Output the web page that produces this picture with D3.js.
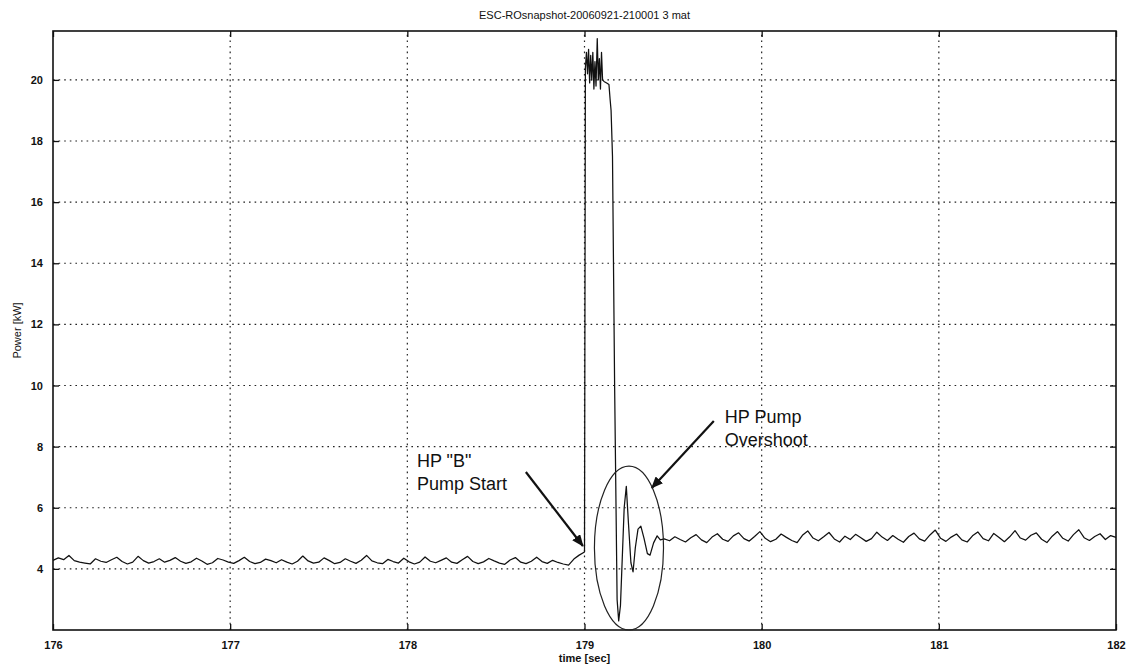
<!DOCTYPE html>
<html>
<head>
<meta charset="utf-8">
<script src="https://cdn.jsdelivr.net/npm/d3@7/dist/d3.min.js"></script>
<style>
  html, body { margin: 0; padding: 0; background: #fff; }
  svg { display: block; }
  text { font-family: "Liberation Sans", Arial, Helvetica, sans-serif; fill: #111; }
</style>
</head>
<body>
<svg id="chart" width="1130" height="666"></svg>
<script>
// ---- data -------------------------------------------------------------
const chartTitle = "ESC-ROsnapshot-20060921-210001 3 mat";
const xLabel = "time [sec]";
const yLabel = "Power [kW]";

const xTicks = [176, 177, 178, 179, 180, 181, 182];
const yTicks = [4, 6, 8, 10, 12, 14, 16, 18, 20];
const xDomain = [176, 182];
const yDomain = [2, 21.6];

// pre-start load, sampled every 0.03 s from 176.00 s
const preStart = 176.0;
const sampleStep = 0.03;
const preValues = [
  4.28, 4.36, 4.30, 4.44, 4.27, 4.22, 4.19, 4.16, 4.33, 4.25,
  4.21, 4.30, 4.38, 4.24, 4.16, 4.22, 4.41, 4.27, 4.19, 4.24,
  4.33, 4.22, 4.28, 4.37, 4.25, 4.18, 4.23, 4.35, 4.26, 4.15,
  4.20, 4.34, 4.29, 4.22, 4.18, 4.27, 4.38, 4.24, 4.17, 4.21,
  4.32, 4.27, 4.20, 4.30, 4.22, 4.16, 4.25, 4.42, 4.26, 4.19,
  4.22, 4.36, 4.27, 4.17, 4.21, 4.33, 4.25, 4.18, 4.28, 4.44,
  4.26, 4.20, 4.17, 4.31, 4.24, 4.19, 4.35, 4.23, 4.16, 4.22,
  4.39, 4.25, 4.20, 4.28, 4.36, 4.22, 4.18, 4.30, 4.41, 4.24,
  4.17, 4.23, 4.34, 4.26, 4.19, 4.15, 4.29, 4.37, 4.22, 4.17,
  4.25, 4.38, 4.24, 4.18, 4.28, 4.21, 4.16, 4.12, 4.32, 4.45
];

// pump start transient: [time s, power kW]
const transient = [
  [179.000, 4.55], [179.005, 20.4], [179.011, 20.9], [179.017, 20.2],
  [179.023, 21.0], [179.029, 19.9], [179.035, 20.8], [179.041, 20.0],
  [179.047, 20.9], [179.053, 19.7], [179.059, 20.6], [179.065, 19.8],
  [179.072, 21.35], [179.078, 20.0], [179.084, 20.7], [179.090, 19.7],
  [179.096, 20.9], [179.102, 20.0], [179.110, 19.95], [179.125, 19.9],
  [179.138, 19.85], [179.144, 19.4], [179.150, 19.0], [179.158, 17.5],
  [179.170, 10.0], [179.184, 3.0], [179.193, 2.3], [179.203, 2.8],
  [179.224, 6.0], [179.236, 6.7], [179.248, 5.5], [179.262, 4.2],
  [179.274, 3.9], [179.287, 4.7], [179.302, 5.3], [179.318, 5.4],
  [179.336, 5.0], [179.355, 4.5], [179.370, 4.45], [179.390, 4.85],
  [179.410, 5.08], [179.428, 4.95]
];

// post-start load, sampled every 0.03 s from 179.45 s
const postStart = 179.45;
const postValues = [
  4.98, 4.92, 5.05, 4.96, 4.88, 5.02, 5.12, 4.95, 4.86, 5.04,
  5.15, 4.97, 4.90, 5.08, 5.18, 4.99, 4.91, 5.06, 5.22, 5.00,
  4.89, 4.97, 5.14, 5.03, 4.93, 4.86, 5.10, 5.24, 5.01, 4.92,
  5.05, 5.19, 4.98, 4.88, 5.07, 4.96, 5.13, 5.02, 4.90, 4.99,
  5.20, 5.04, 4.93, 5.09, 4.97, 4.87, 5.06, 5.17, 4.98, 4.91,
  5.11, 5.27, 5.00, 4.90, 5.04, 5.14, 4.95, 4.88, 5.08, 5.21,
  4.99, 4.92, 5.16, 5.03, 4.89, 5.05, 5.25, 5.01, 4.94, 5.10,
  5.18, 4.97, 4.86, 5.07, 5.22, 5.00, 4.91, 5.12, 5.28, 5.02,
  4.93, 5.06, 5.15, 4.96, 5.09, 5.03
];

// callouts (data units)
const startNote = { t: 178.054, v: 7.33, lines: ['HP "B"', 'Pump Start'] };
const startArrow = { from: [178.669, 7.17], to: [178.991, 4.75] };
const overshootNote = { t: 179.792, v: 8.77, lines: ['HP Pump', 'Overshoot'] };
const overshootArrow = { from: [179.730, 8.84], to: [179.380, 6.65] };
const overshootRing = { t: 179.251, v: 4.68, dt: 0.195, dv: 2.68 };

// ---- layout -----------------------------------------------------------
const W = 1130, H = 666;
const margin = { left: 53, right: 14, top: 31, bottom: 36 };
const x = d3.scaleLinear().domain(xDomain).range([margin.left, W - margin.right]);
const y = d3.scaleLinear().domain(yDomain).range([H - margin.bottom, margin.top]);

const svg = d3.select("#chart");
svg.append("rect").attr("width", W).attr("height", H).attr("fill", "#fff");

const series = [
  ...preValues.map((v, i) => [preStart + i * sampleStep, v]),
  ...transient,
  ...postValues.map((v, i) => [postStart + i * sampleStep, v])
];

// grid
const grid = svg.append("g").attr("stroke", "#222").attr("stroke-width", 1.2)
  .attr("stroke-dasharray", "1.6,4");
grid.selectAll("line.gx").data(xTicks.slice(1, -1)).join("line")
  .attr("x1", d => x(d)).attr("x2", d => x(d))
  .attr("y1", y.range()[0]).attr("y2", y.range()[1]);
grid.selectAll("line.gy").data(yTicks).join("line")
  .attr("y1", d => y(d)).attr("y2", d => y(d))
  .attr("x1", x.range()[0]).attr("x2", x.range()[1]);

// trace
svg.append("path").datum(series)
  .attr("fill", "none").attr("stroke", "#111").attr("stroke-width", 1.25)
  .attr("stroke-linejoin", "round")
  .attr("d", d3.line().x(d => x(d[0])).y(d => y(d[1])));

// axes with inward ticks on every side
const tickLen = 6;
const axisStyle = g => {
  g.select(".domain").remove();
  g.selectAll(".tick line").attr("stroke", "#111").attr("stroke-width", 1.3);
  g.selectAll(".tick text").attr("font-size", 11).attr("font-weight", "bold")
    .style("font-family", '"Liberation Sans", Arial, sans-serif');
};
svg.append("g").attr("transform", `translate(0,${y.range()[0]})`)
  .call(d3.axisBottom(x).tickValues(xTicks).tickFormat(d3.format("d")).tickSizeInner(-tickLen).tickSizeOuter(0).tickPadding(tickLen + 5))
  .call(axisStyle);
svg.append("g").attr("transform", `translate(0,${y.range()[1]})`)
  .call(d3.axisTop(x).tickValues(xTicks).tickFormat("").tickSizeInner(-tickLen).tickSizeOuter(0))
  .call(axisStyle);
svg.append("g").attr("transform", `translate(${x.range()[0]},0)`)
  .call(d3.axisLeft(y).tickValues(yTicks).tickFormat(d3.format("d")).tickSizeInner(-tickLen).tickSizeOuter(0).tickPadding(tickLen + 4))
  .call(axisStyle);
svg.append("g").attr("transform", `translate(${x.range()[1]},0)`)
  .call(d3.axisRight(y).tickValues(yTicks).tickFormat("").tickSizeInner(-tickLen).tickSizeOuter(0))
  .call(axisStyle);

// frame
svg.append("rect")
  .attr("x", x.range()[0]).attr("y", y.range()[1])
  .attr("width", x.range()[1] - x.range()[0]).attr("height", y.range()[0] - y.range()[1])
  .attr("fill", "none").attr("stroke", "#111").attr("stroke-width", 1.6);

// titles
svg.append("text").attr("x", (x.range()[0] + x.range()[1]) / 2).attr("y", 19)
  .attr("text-anchor", "middle").attr("font-size", 11).text(chartTitle);
svg.append("text").attr("x", (x.range()[0] + x.range()[1]) / 2).attr("y", 662)
  .attr("text-anchor", "middle").attr("font-size", 11).attr("font-weight", "bold").text(xLabel);
svg.append("text").attr("transform", `translate(21,${(y.range()[0] + y.range()[1]) / 2}) rotate(-90)`)
  .attr("text-anchor", "middle").attr("font-size", 11).text(yLabel);

// callouts
const defs = svg.append("defs");
defs.append("marker").attr("id", "head").attr("viewBox", "0 0 12 10")
  .attr("refX", 11).attr("refY", 5).attr("markerWidth", 12).attr("markerHeight", 10)
  .attr("markerUnits", "userSpaceOnUse").attr("orient", "auto")
  .append("path").attr("d", "M0,0 L12,5 L0,10 Z").attr("fill", "#111");

function note(n) {
  const t = svg.append("text").attr("x", x(n.t)).attr("y", y(n.v)).attr("font-size", 18)
    .style("font-family", '"Liberation Sans", Arial, sans-serif');
  n.lines.forEach((s, i) => t.append("tspan").attr("x", x(n.t)).attr("dy", i ? 23 : 0).text(s));
}
function arrow(a) {
  svg.append("line")
    .attr("x1", x(a.from[0])).attr("y1", y(a.from[1]))
    .attr("x2", x(a.to[0])).attr("y2", y(a.to[1]))
    .attr("stroke", "#111").attr("stroke-width", 2.2).attr("marker-end", "url(#head)");
}
note(startNote);
note(overshootNote);
arrow(startArrow);
arrow(overshootArrow);
svg.append("ellipse")
  .attr("cx", x(overshootRing.t)).attr("cy", y(overshootRing.v))
  .attr("rx", x(overshootRing.t + overshootRing.dt) - x(overshootRing.t))
  .attr("ry", y(overshootRing.v) - y(overshootRing.v + overshootRing.dv))
  .attr("fill", "none").attr("stroke", "#222").attr("stroke-width", 1.2);
</script>
</body>
</html>
